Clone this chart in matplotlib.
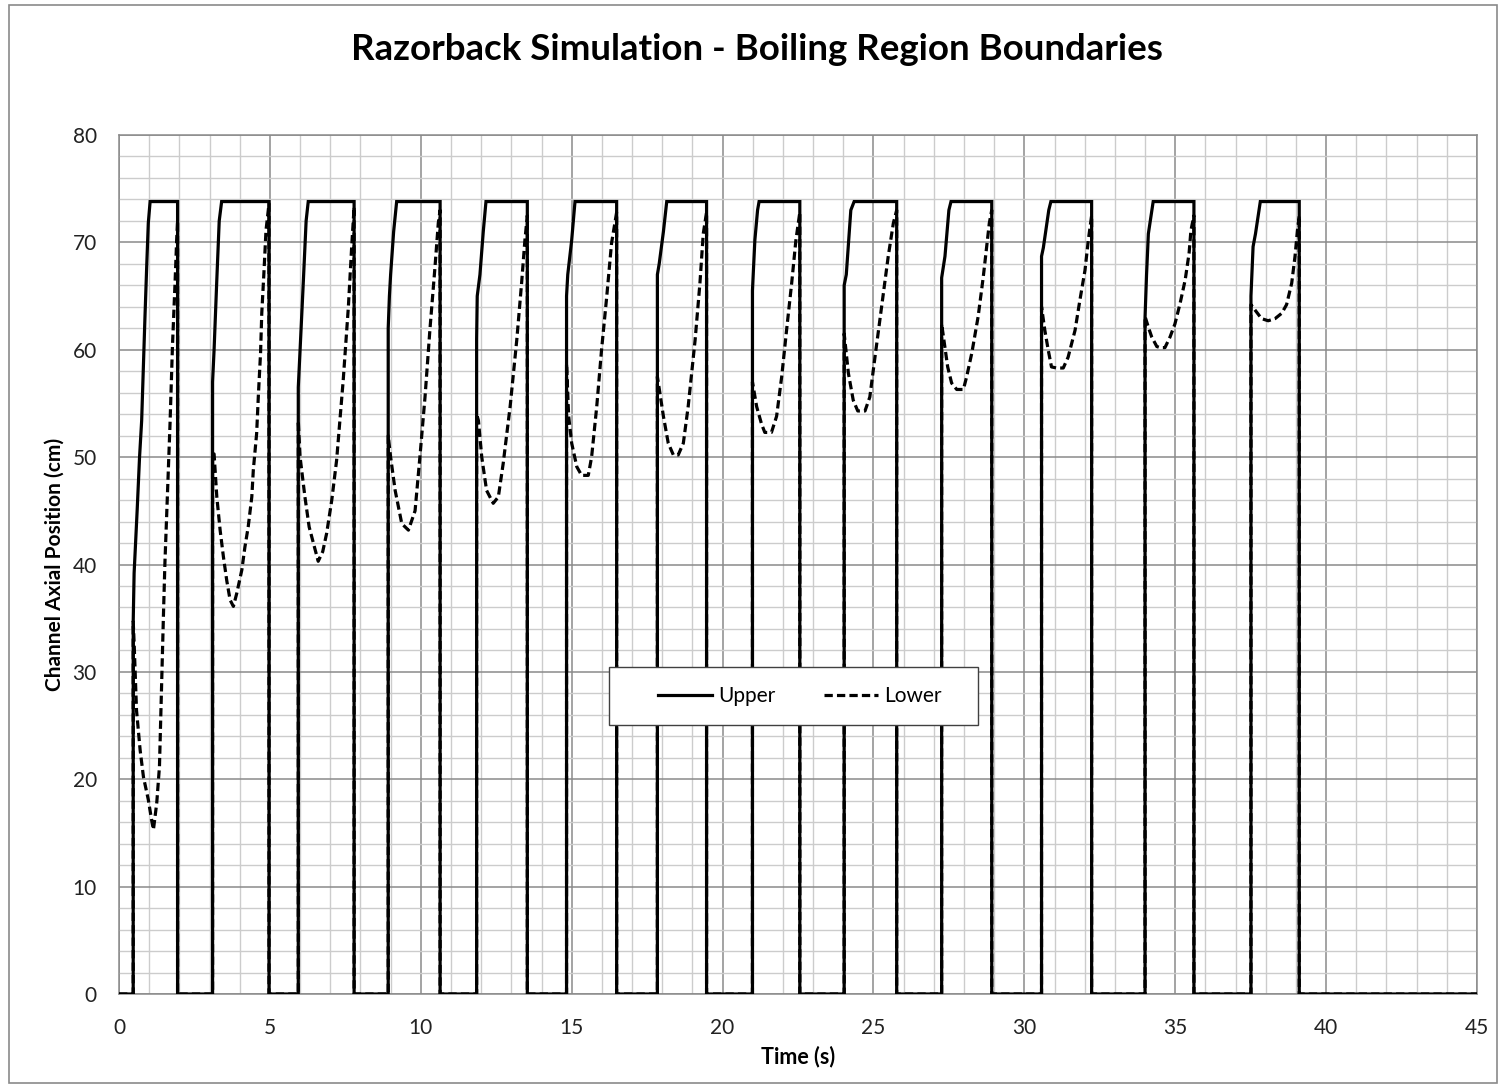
import matplotlib
matplotlib.use("Agg")
import matplotlib.pyplot as plt
from matplotlib.patches import Rectangle
from matplotlib.ticker import MultipleLocator

plt.rcParams['font.family'] = ['Lato', 'DejaVu Sans']

# Upper boundary of the boiling region (time s, position cm), pulse by pulse
upper_t = [0.00, 0.47, 0.47, 0.50, 0.60, 0.68, 0.75, 0.81, 0.86, 0.92, 0.97, 1.03, 1.94, 1.94,
           3.10, 3.10, 3.15, 3.24, 3.32, 3.40, 4.97, 4.97,
           5.94, 5.94, 6.00, 6.11, 6.20, 6.27, 7.79, 7.79,
           8.92, 8.92, 8.96, 9.00, 9.10, 9.20, 10.64, 10.64,
           11.85, 11.85, 11.87, 11.96, 12.07, 12.16, 13.53, 13.53,
           14.83, 14.83, 14.87, 15.00, 15.11, 16.49, 16.49,
           17.84, 17.84, 17.90, 18.04, 18.15, 19.47, 19.47,
           20.99, 20.99, 21.07, 21.16, 21.21, 22.56, 22.56,
           24.03, 24.03, 24.10, 24.25, 24.36, 25.77, 25.77,
           27.26, 27.26, 27.37, 27.50, 27.57, 28.92, 28.92,
           30.57, 30.57, 30.63, 30.81, 30.88, 32.23, 32.23,
           34.00, 34.00, 34.05, 34.11, 34.27, 35.62, 35.62,
           37.51, 37.51, 37.58, 37.66, 37.82, 39.11, 39.11,
           45.00]
upper_y = [0, 0, 34.7, 39.2, 45.0, 50.0, 53.4, 58.7, 63.1, 68.0, 71.8, 73.8, 73.8, 0,
           0, 57.0, 60.0, 66.5, 72.0, 73.8, 73.8, 0,
           0, 56.5, 60.0, 66.5, 72.0, 73.8, 73.8, 0,
           0, 62.0, 65.0, 67.0, 71.0, 73.8, 73.8, 0,
           0, 61.0, 65.0, 67.0, 71.0, 73.8, 73.8, 0,
           0, 65.0, 67.0, 70.2, 73.8, 73.8, 0,
           0, 67.0, 68.0, 71.0, 73.8, 73.8, 0,
           0, 65.5, 70.2, 73.0, 73.8, 73.8, 0,
           0, 66.0, 67.0, 73.0, 73.8, 73.8, 0,
           0, 66.7, 68.7, 73.0, 73.8, 73.8, 0,
           0, 68.7, 69.5, 73.0, 73.8, 73.8, 0,
           0, 63.0, 67.0, 70.8, 73.8, 73.8, 0,
           0, 65.0, 69.6, 70.8, 73.8, 73.8, 0,
           0]

# Lower boundary of the boiling region
lower_t = [0.00, 0.47, 0.47, 0.50, 0.58, 0.70, 0.81, 0.97, 1.08, 1.14, 1.25, 1.34, 1.41, 1.47, 1.52,
           1.69, 1.77, 1.86, 1.91, 1.94, 1.94,
           3.10, 3.10, 3.15, 3.24, 3.35, 3.46, 3.57, 3.68, 3.79, 3.90, 4.07, 4.17, 4.28, 4.40,
           4.45, 4.56, 4.62, 4.69, 4.73, 4.80, 4.87, 4.97, 4.97,
           5.94, 5.94, 6.00, 6.16, 6.30, 6.44, 6.60, 6.75, 6.88, 7.05, 7.21, 7.43, 7.60, 7.71,
           7.79, 7.79,
           8.92, 8.92, 9.00, 9.15, 9.37, 9.59, 9.81, 9.97, 10.14, 10.30, 10.47, 10.58, 10.64, 10.64,
           11.85, 11.85, 11.91, 12.02, 12.18, 12.40, 12.57, 12.73, 12.96, 13.18, 13.34, 13.45,
           13.53, 13.53,
           14.83, 14.83, 14.90, 15.00, 15.17, 15.33, 15.55, 15.66, 15.83, 15.99, 16.16, 16.32,
           16.49, 16.49,
           17.84, 17.84, 18.04, 18.20, 18.37, 18.53, 18.70, 18.86, 19.09, 19.25, 19.36, 19.47, 19.47,
           20.99, 20.99, 21.13, 21.29, 21.40, 21.62, 21.79, 21.96, 22.12, 22.29, 22.43, 22.56, 22.56,
           24.03, 24.03, 24.17, 24.33, 24.48, 24.72, 24.88, 25.05, 25.27, 25.49, 25.66, 25.77, 25.77,
           27.26, 27.26, 27.35, 27.46, 27.59, 27.76, 27.98, 28.09, 28.26, 28.47, 28.64, 28.75,
           28.84, 28.92, 28.92,
           30.57, 30.57, 30.68, 30.79, 30.90, 31.07, 31.29, 31.45, 31.68, 31.84, 32.01, 32.12,
           32.23, 32.23,
           34.00, 34.00, 34.11, 34.22, 34.39, 34.50, 34.66, 34.83, 34.99, 35.16, 35.33, 35.46,
           35.52, 35.62, 35.62,
           37.51, 37.51, 37.70, 37.86, 38.08, 38.31, 38.53, 38.69, 38.86, 38.97, 39.05, 39.11, 39.11,
           45.00]
lower_y = [0, 0, 34.7, 32.7, 26.4, 22.7, 20.2, 18.1, 16.2, 15.3, 17.8, 21.2, 28.9, 35.1, 40.1,
           53.1, 60.3, 66.5, 70.2, 72.0, 0,
           0, 50.3, 50.3, 46.3, 43.2, 40.7, 38.5, 36.7, 36.1, 37.3, 39.5, 41.6, 43.5, 46.3,
           48.8, 52.2, 55.9, 59.7, 63.4, 67.1, 71.1, 73.6, 0,
           0, 53.4, 50.0, 46.3, 43.5, 42.0, 40.3, 41.2, 42.9, 46.0, 49.7, 57.2, 64.0, 69.6,
           73.3, 0,
           0, 52.0, 50.0, 46.9, 43.8, 43.2, 45.0, 50.0, 55.6, 61.8, 67.7, 71.8, 73.0, 0,
           0, 54.0, 53.4, 50.0, 46.9, 45.7, 46.3, 49.4, 54.7, 60.9, 66.2, 70.2,
           72.5, 0,
           0, 58.7, 53.8, 51.3, 49.1, 48.3, 48.3, 50.0, 54.7, 60.0, 64.9, 69.9,
           72.8, 0,
           0, 57.5, 53.8, 51.3, 50.2, 50.2, 51.3, 54.7, 60.9, 66.2, 70.8, 72.8, 0,
           0, 57.0, 54.7, 53.1, 52.3, 52.3, 53.8, 57.5, 61.8, 66.2, 70.2, 72.8, 0,
           0, 61.5, 57.8, 55.3, 54.3, 54.3, 55.6, 59.3, 64.0, 68.7, 71.8, 73.0, 0,
           0, 62.4, 60.6, 58.4, 56.9, 56.3, 56.3, 57.5, 59.7, 63.1, 66.8, 69.6,
           71.8, 73.0, 0,
           0, 64.0, 61.8, 60.0, 58.4, 58.3, 58.3, 59.3, 61.8, 64.6, 67.4, 70.2,
           72.5, 0,
           0, 63.1, 62.1, 61.2, 60.3, 60.2, 60.2, 61.2, 62.4, 64.3, 66.5, 69.0,
           71.1, 72.5, 0,
           0, 64.2, 63.5, 62.9, 62.7, 62.9, 63.4, 64.2, 66.2, 68.7, 71.1, 72.5, 0,
           0]

x_ticks = [0, 5, 10, 15, 20, 25, 30, 35, 40, 45]
y_ticks = [0, 10, 20, 30, 40, 50, 60, 70, 80]

major_grey = '#8a8a8a'
minor_grey = '#cccccc'

fig = plt.figure(figsize=(15.01, 10.86), dpi=100)
ax = fig.add_axes([0.0793, 0.0847, 0.9047, 0.791])

ax.plot(upper_t, upper_y, color='black', lw=2.3, label='Upper', zorder=3,
        solid_joinstyle='miter')
ax.plot(lower_t, lower_y, color='black', lw=2.3, ls=(0, (2.6, 1.3)), label='Lower',
        zorder=4)

ax.set_xlim(0, 45)
ax.set_ylim(0, 80)
ax.set_xticks(x_ticks)
ax.set_yticks(y_ticks)
ax.xaxis.set_minor_locator(MultipleLocator(1))
ax.yaxis.set_minor_locator(MultipleLocator(2))
ax.grid(which='major', color=major_grey, lw=1.1, zorder=1)
ax.grid(which='minor', color=minor_grey, lw=1.0, zorder=0)
ax.set_axisbelow(True)
ax.tick_params(which='both', length=0)
ax.tick_params(axis='x', labelsize=15, pad=17, colors='#222222')
ax.tick_params(axis='y', labelsize=15, pad=16, colors='#222222')
for s in ax.spines.values():
    s.set_color(major_grey)
    s.set_linewidth(1.1)

ax.set_xlabel('Time (s)', fontsize=15.5, fontweight='bold', labelpad=6)
ax.set_ylabel('Channel Axial Position (cm)', fontsize=15, fontweight='bold', labelpad=6)

fig.text(0.504, 0.954, 'Razorback Simulation - Boiling Region Boundaries',
         ha='center', va='center', fontsize=26.4, fontweight='bold')

# legend box
ax.add_patch(Rectangle((609 / 1501, 1 - 725 / 1086), 369 / 1501, 58 / 1086,
                       transform=fig.transFigure, facecolor='white',
                       edgecolor='#404040', lw=1.0, zorder=6, clip_on=False))
leg = ax.legend(loc='center', bbox_to_anchor=(0.533, 0.359), bbox_transform=fig.transFigure,
                ncol=2, frameon=False, fontsize=15, handlelength=2.6,
                handletextpad=0.3, columnspacing=2.3)
leg.set_zorder(7)

# outer chart border
fig.patches.append(Rectangle((9 / 1501, 3 / 1086), 1488 / 1501, 1078 / 1086,
                             transform=fig.transFigure, fill=False,
                             edgecolor='#8a8a8a', lw=1.2))

fig.savefig('out.png', dpi=100)
